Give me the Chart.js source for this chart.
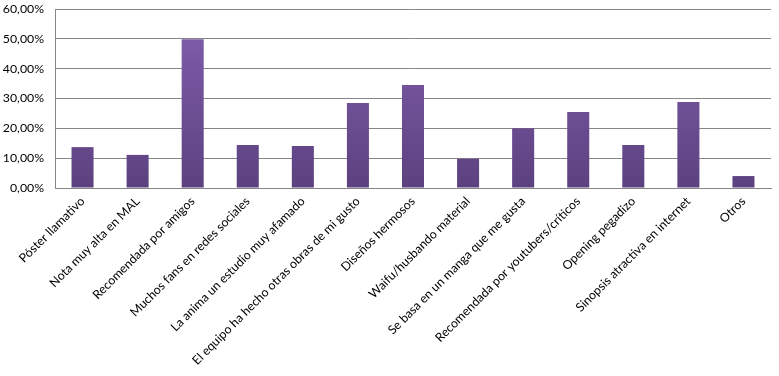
<!DOCTYPE html>
<html>
<head>
<meta charset="utf-8">
<script src="https://cdn.jsdelivr.net/npm/chart.js@4"></script>
<style>
  html,body{margin:0;padding:0;background:#fff;}
  #wrap{width:779px;height:376px;}
</style>
</head>
<body>
<div id="wrap"><canvas id="chart" width="779" height="376"></canvas></div>
<script>
// motivos para ver un anime (porcentajes)
const categorias = [
  'Póster llamativo',
  'Nota muy alta en MAL',
  'Recomendada por amigos',
  'Muchos fans en redes sociales',
  'La anima un estudio muy afamado',
  'El equipo ha hecho otras obras de mi gusto',
  'Diseños hermosos',
  'Waifu/husbando material',
  'Se basa en un manga que me gusta',
  'Recomendada por youtubers/críticos',
  'Opening pegadizo',
  'Sinopsis atractiva en internet',
  'Otros'
];
const porcentajes = [13.7, 11.1, 49.9, 14.4, 14.1, 28.5, 34.5, 9.8, 20.0, 25.5, 14.4, 28.8, 4.0];
const yMax = 60;
const yPaso = 10;

const fmt = (v)=> v.toFixed(2).replace('.', ',') + '%';

function degradado(ctx){
  const c = ctx.chart;
  const area = c.chartArea;
  if(!area) return '#7052a0';
  const g = c.ctx.createLinearGradient(0, area.top, 0, area.bottom);
  g.addColorStop(0, '#8360b0');
  g.addColorStop(1, '#5c417f');
  return g;
}

const fuente = { family: 'Lato, "Open Sans", sans-serif', size: 12.3 };

new Chart(document.getElementById('chart'), {
  type: 'bar',
  data: {
    labels: categorias,
    datasets: [{
      data: porcentajes,
      backgroundColor: degradado,
      borderWidth: 0,
      categoryPercentage: 1,
      barPercentage: 0.4
    }]
  },
  options: {
    responsive: false,
    animation: false,
    layout: { padding: { top: 9, right: 8, left: 0, bottom: 0 } },
    plugins: { legend: { display: false }, tooltip: { enabled: false } },
    scales: {
      x: {
        grid: { display: false, drawTicks: false },
        border: { color: '#868686', width: 1 },
        ticks: {
          color: '#000', font: fuente, autoSkip: false,
          minRotation: 45, maxRotation: 45, padding: 6
        },
        afterFit: (s)=>{ s.height = 188; s.paddingTop = 0; s.paddingRight = 0; }
      },
      y: {
        min: 0, max: yMax,
        grid: { color: '#868686', drawTicks: false },
        border: { color: '#868686', width: 1 },
        ticks: {
          stepSize: yPaso, color: '#000', font: fuente, padding: 11,
          callback: (v)=> fmt(v)
        },
        afterFit: (s)=>{ s.width = 55; s.paddingTop = 0; s.paddingBottom = 0; }
      }
    }
  }
});
</script>
</body>
</html>
